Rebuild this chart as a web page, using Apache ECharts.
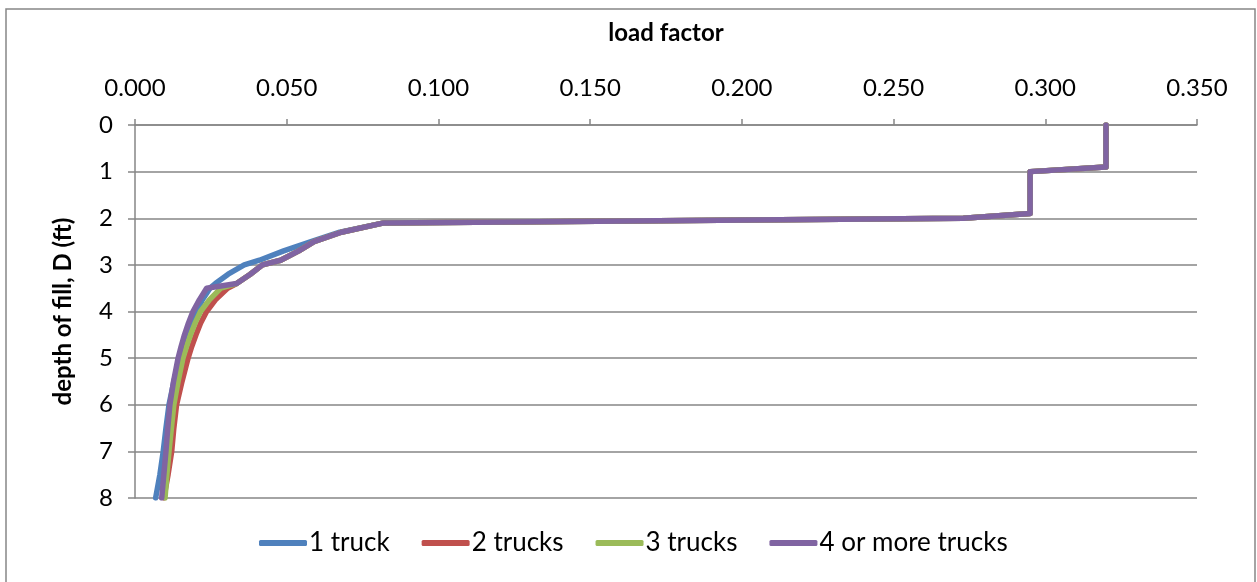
<!DOCTYPE html>
<html>
<head>
<meta charset="utf-8">
<title>load factor vs depth of fill</title>
<script src="https://cdn.jsdelivr.net/npm/echarts@6/dist/echarts.min.js"></script>
<style>
  html, body { margin: 0; padding: 0; background: #fff; }
  #main { width: 1257px; height: 582px; }
</style>
</head>
<body>
<div id="main"></div>
<script>
// depth of fill (ft), shared by every series
const depths = [0, 0.9, 1.0, 1.9, 2.0, 2.1, 2.3, 2.5, 2.7, 2.9, 3.0, 3.2, 3.4, 3.5, 3.75, 4.0, 4.25, 4.5, 4.75, 5.0, 5.5, 6.0, 6.5, 7.0, 7.5, 8.0];

// load factor for each truck case
const oneTruck    = [0.320, 0.320, 0.295, 0.295, 0.273, 0.082, 0.0675, 0.058, 0.049, 0.041, 0.036, 0.0307, 0.0265, 0.0247, 0.0222, 0.0203, 0.0186, 0.0172, 0.0159, 0.0148, 0.0128, 0.0112, 0.0102, 0.0093, 0.0082, 0.0068];
const twoTrucks   = [0.320, 0.320, 0.295, 0.295, 0.273, 0.082, 0.068, 0.059, 0.054, 0.048, 0.042, 0.038, 0.0335, 0.0305, 0.0265, 0.0236, 0.0216, 0.0201, 0.0187, 0.0175, 0.0155, 0.0137, 0.0128, 0.0121, 0.0109, 0.0095];
const threeTrucks = [0.320, 0.320, 0.295, 0.295, 0.273, 0.082, 0.068, 0.059, 0.054, 0.048, 0.042, 0.038, 0.0335, 0.0283, 0.0245, 0.0216, 0.0198, 0.0183, 0.0170, 0.0158, 0.0142, 0.0128, 0.0120, 0.0112, 0.0105, 0.0099];
const fourTrucks  = [0.320, 0.320, 0.295, 0.295, 0.273, 0.082, 0.068, 0.059, 0.054, 0.048, 0.042, 0.038, 0.0335, 0.0236, 0.0212, 0.0191, 0.0176, 0.0163, 0.0152, 0.0142, 0.0127, 0.0115, 0.0108, 0.0102, 0.0095, 0.0088];

const seriesNames = ["1 truck", "2 trucks", "3 trucks", "4 or more trucks"];
const seriesColors = ["#4F81BD", "#C0504D", "#9BBB59", "#8064A2"];
const seriesValues = [oneTruck, twoTrucks, threeTrucks, fourTrucks];

const FONT = "Lato";
const GRAY = "#868686";

function pairs(values) {
  let out = [];
  for (let i = 0; i < depths.length; i++) {
    out.push([values[i], depths[i]]);
  }
  return out;
}

let chart = echarts.init(document.getElementById("main"));

chart.setOption({
  animation: false,
  textStyle: { fontFamily: FONT },
  graphic: [
    {
      type: "rect",
      shape: { x: 6, y: 9, width: 1249, height: 590 },
      style: { fill: "none", stroke: GRAY, lineWidth: 1.5 },
      silent: true
    }
  ],
  grid: {
    left: 135,
    right: 60,
    top: 125,
    bottom: 84
  },
  legend: {
    bottom: 21,
    left: 254,
    itemWidth: 48,
    itemHeight: 6,
    itemGap: 32,
    icon: "roundRect",
    textStyle: { fontFamily: FONT, fontSize: 26, color: "#000", padding: [0, 0, 0, -3] },
    data: seriesNames
  },
  xAxis: {
    type: "value",
    position: "top",
    min: 0,
    max: 0.35,
    interval: 0.05,
    name: "load factor",
    nameLocation: "middle",
    nameGap: 80,
    nameTextStyle: { fontFamily: FONT, fontSize: 24, fontWeight: "bold", color: "#000" },
    axisLine: { show: true, lineStyle: { color: GRAY, width: 1.5 } },
    axisTick: { show: true, length: 6, inside: false, lineStyle: { color: GRAY, width: 1.5 } },
    axisLabel: {
      margin: 25,
      fontFamily: FONT,
      fontSize: 24,
      color: "#000",
      formatter: function (v) { return v.toFixed(3); }
    },
    splitLine: { show: false }
  },
  yAxis: {
    type: "value",
    inverse: true,
    min: 0,
    max: 8,
    interval: 1,
    name: "depth of fill, D (ft)",
    nameLocation: "middle",
    nameGap: 60,
    nameTextStyle: { fontFamily: FONT, fontSize: 24, fontWeight: "bold", color: "#000" },
    axisLine: { show: true, lineStyle: { color: GRAY, width: 1.5 } },
    axisTick: { show: true, length: 7, lineStyle: { color: GRAY, width: 1.5 } },
    axisLabel: { margin: 22, fontFamily: FONT, fontSize: 24, color: "#000" },
    splitLine: { show: true, lineStyle: { color: GRAY, width: 1.5 } }
  },
  series: seriesNames.map(function (name, i) {
    return {
      name: name,
      type: "line",
      data: pairs(seriesValues[i]),
      showSymbol: false,
      symbol: "none",
      smooth: false,
      color: seriesColors[i],
      lineStyle: { width: 5.5, color: seriesColors[i], join: "round", cap: "round" }
    };
  })
});
</script>
</body>
</html>
